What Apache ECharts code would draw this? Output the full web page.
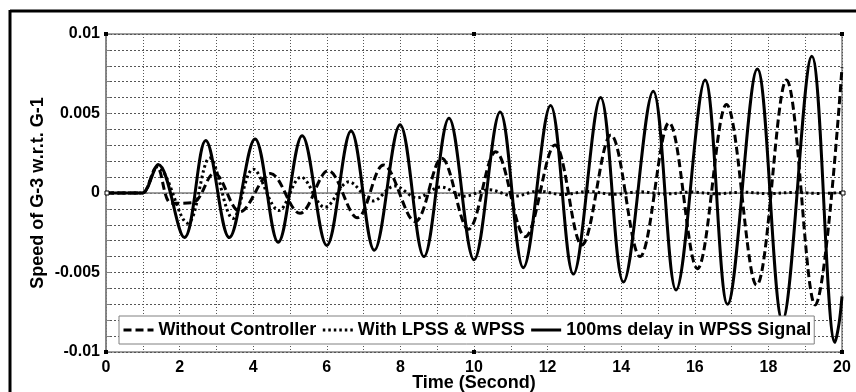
<!DOCTYPE html>
<html>
<head>
<meta charset="utf-8">
<script src="https://cdn.jsdelivr.net/npm/echarts@6/dist/echarts.min.js"></script>
<style>
html,body{margin:0;padding:0;background:#fff;}
#chart{width:856px;height:392px;}
</style>
</head>
<body>
<div id="chart"></div>
<script>
// Without Controller (dashed) : [time, value] read at extrema
var withoutController = [
  [0,0],[0.95,0],[1.0,0],[1.38,0.00165],[1.78,-0.00065],[2.36,-0.0006],[2.94,0.00124],
  [3.64,-0.00118],[4.47,0.00122],[5.27,-0.00128],[6.04,0.0014],[6.83,-0.00155],
  [7.54,0.00176],[8.4,-0.0018],[9.12,0.00218],[9.85,-0.00228],[10.59,0.0026],
  [11.39,-0.00275],[12.2,0.00302],[12.93,-0.00327],[13.72,0.00365],[14.51,-0.0040],
  [15.3,0.00442],[16.07,-0.00476],[16.86,0.00556],[17.68,-0.00579],[18.49,0.0071],
  [19.27,-0.00704],[20,0.0079]
];
// With LPSS & WPSS (dotted)
var withLpssWpss = [
  [0,0],[0.95,0],[1.0,0],[1.4,0.00165],[2.22,-0.0019],[2.82,0.0022],[3.45,-0.0016],
  [4.0,0.0015],[4.7,-0.0011],[5.3,0.001],[5.95,-0.0009],[6.6,0.0007],[7.25,-0.0005],
  [7.85,0.00044],[8.45,-0.0003],[9.1,0.00038],[9.75,-0.0002],[10.4,0.0002],
  [11.1,-0.0002],[11.75,0.00012],[12.4,-0.0001],[13.1,0.0001],[13.8,-0.00008],
  [14.5,0.00008],[15.2,-0.00006],[15.9,0.00006],[16.6,-0.00005],[17.3,0.00005],
  [18.0,-0.00004],[18.7,0.00004],[19.4,-0.00003],[20,0.00003]
];
// 100ms delay in WPSS Signal (solid)
var delay100ms = [
  [0,0],[0.95,0],[1.0,0],[1.42,0.0018],[2.13,-0.0028],[2.71,0.0033],[3.35,-0.0028],
  [4.05,0.0034],[4.68,-0.0031],[5.33,0.0036],[6.0,-0.0033],[6.66,0.0039],[7.29,-0.0036],
  [7.99,0.0043],[8.64,-0.0040],[9.32,0.0047],[10.0,-0.0042],[10.71,0.0051],[11.34,-0.0047],
  [12.08,0.0055],[12.7,-0.0051],[13.44,0.0060],[14.06,-0.0056],[14.87,0.0064],
  [15.49,-0.0061],[16.28,0.0071],[16.89,-0.0070],[17.7,0.0078],[18.38,-0.0080],
  [19.18,0.0086],[19.81,-0.0094],[19.92,-0.0082],[20,-0.0065]
];
var seriesNames = ['Without Controller','With LPSS & WPSS','100ms delay in WPSS Signal'];
var xTicks = [0,2,4,6,8,10,12,14,16,18,20];
var yTicks = [-0.01,-0.005,0,0.005,0.01];
var xName = 'Time (Second)';
var yName = 'Speed of G-3 w.r.t. G-1';

var chart = echarts.init(document.getElementById('chart'), null, {renderer:'canvas'});
var font = 'Arial, "Liberation Sans", sans-serif';
var gridDot = {color:'#555', width:1, type:[1,2]};
var gridDash = {color:'#555', width:1, type:[2,2]};
function handle(x,y){
  return {type:'rect', shape:{x:x-2,y:y-2,width:4,height:4}, style:{fill:'#000'}, z:100};
}
function hollow(x,y){
  return {type:'rect', shape:{x:x-2,y:y-2,width:4,height:4}, style:{fill:'#fff',stroke:'#000',lineWidth:1}, z:100};
}
chart.setOption({
  animation:false,
  backgroundColor:'#fff',
  grid:{left:106, top:34, right:14, bottom:40, show:true, borderColor:'#808080', borderWidth:1.5,
        containLabel:false, outerBoundsMode:'none'},
  xAxis:{
    type:'value', min:0, max:20, interval:2,
    name:xName, nameLocation:'middle', nameGap:22, nameMoveOverlap:false,
    nameTextStyle:{fontFamily:font, fontWeight:'bold', fontSize:18, color:'#000'},
    axisLine:{show:true, lineStyle:{color:'#808080', width:1.5}},
    axisTick:{show:true, inside:true, length:5, lineStyle:{color:'#808080'}},
    minorTick:{show:true, splitNumber:2, length:5, lineStyle:{color:'#808080'}},
    axisLabel:{fontFamily:font, fontWeight:'bold', fontSize:16, color:'#000', margin:8,
      formatter:function(v){ return xTicks.indexOf(v)>=0 ? String(v) : ''; }},
    splitLine:{show:true, lineStyle:gridDot},
    minorSplitLine:{show:true, lineStyle:gridDot}
  },
  yAxis:{
    type:'value', min:-0.01, max:0.01, interval:0.005,
    name:yName, nameLocation:'middle', nameGap:59, nameRotate:90, nameMoveOverlap:false,
    nameTextStyle:{fontFamily:font, fontWeight:'bold', fontSize:18, color:'#000'},
    axisLine:{show:true, lineStyle:{color:'#808080', width:1.5}},
    axisTick:{show:true, inside:true, length:5, lineStyle:{color:'#808080'}},
    minorTick:{show:true, splitNumber:5, length:4, lineStyle:{color:'#808080'}},
    axisLabel:{fontFamily:font, fontWeight:'bold', fontSize:16, color:'#000', margin:6,
      formatter:function(v){
        for (var i=0;i<yTicks.length;i++){ if (Math.abs(v-yTicks[i])<1e-9) return String(yTicks[i]); }
        return '';
      }},
    splitLine:{show:true, lineStyle:gridDash},
    minorSplitLine:{show:true, lineStyle:gridDash}
  },
  legend:{
    left:119, top:316, orient:'horizontal',
    padding:[4,3,4,3], itemGap:5, itemWidth:30, itemHeight:14,
    backgroundColor:'#fff', borderColor:'#808080', borderWidth:1,
    itemStyle:{color:'rgba(0,0,0,0)', borderWidth:0, opacity:0},
    lineStyle:{width:3},
    textStyle:{fontFamily:font, fontWeight:'bold', fontSize:18, color:'#000', lineHeight:20},
    data:seriesNames
  },
  series:[
    {name:seriesNames[0], type:'line', data:withoutController, smooth:0.36, symbol:'none',
      lineStyle:{color:'#000', width:3, type:[8,4]}, itemStyle:{color:'#000'}},
    {name:seriesNames[1], type:'line', data:withLpssWpss, smooth:0.36, symbol:'none',
      lineStyle:{color:'#000', width:3, type:[2.5,3]}, itemStyle:{color:'#000'}},
    {name:seriesNames[2], type:'line', data:delay100ms, smooth:0.36, symbol:'none',
      lineStyle:{color:'#000', width:3, type:'solid'}, itemStyle:{color:'#000'}}
  ],
  graphic:[
    {type:'line', shape:{x1:10,y1:11,x2:856,y2:11}, style:{stroke:'#000',lineWidth:3}, z:100},
    {type:'line', shape:{x1:10,y1:10,x2:10,y2:392}, style:{stroke:'#000',lineWidth:3}, z:100},
    handle(106,34), handle(474,34), handle(842,34),
    handle(106,352), handle(474,352), handle(842,352),
    hollow(107,193), hollow(843,193)
  ]
});
</script>
</body>
</html>
